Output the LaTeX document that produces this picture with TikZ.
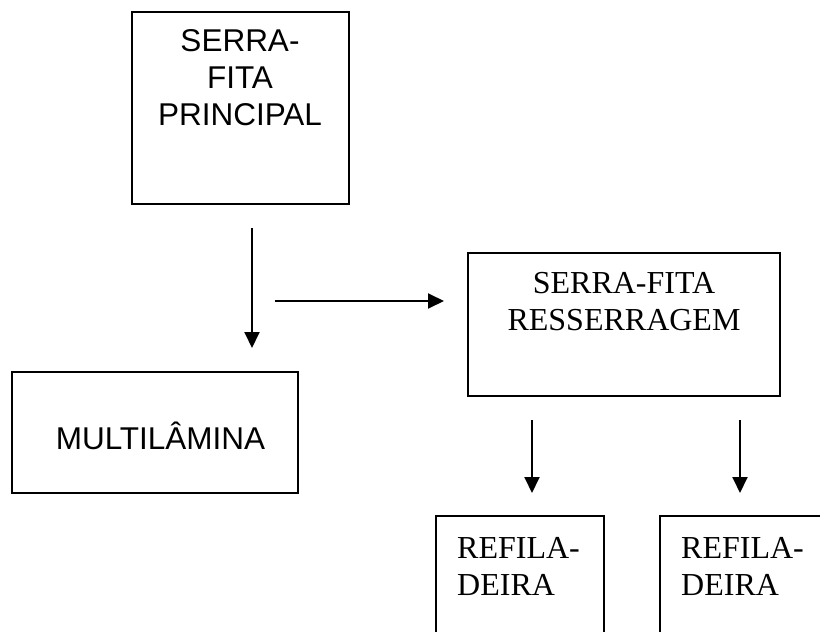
\documentclass[tikz,border=0pt]{standalone}
\usepackage{fontspec}
\setmainfont{Liberation Serif}
\newfontfamily\arialf{Liberation Sans}
\usetikzlibrary{arrows.meta}
\begin{document}
\begin{tikzpicture}[x=1pt,y=-1pt,
  box/.style={draw, line width=1.9pt, rectangle, inner sep=0pt},
  sanslbl/.style={align=center, inner sep=0pt, font=\arialf\fontsize{31.5}{37}\selectfont},
  seriflbl/.style={align=center, inner sep=0pt, font=\fontsize{32}{37}\selectfont},
  serifleft/.style={align=left, inner sep=0pt, font=\fontsize{32}{37}\selectfont},
  arr/.style={line width=1.9pt, -{Triangle[length=16pt,width=15pt]}}]
\useasboundingbox (0,0) rectangle (820,632);
\clip (0,0) rectangle (820,632);

% boxes
\node[box, minimum width=217pt, minimum height=192pt] (p) at (240.5,108) {};
\node[box, minimum width=286pt, minimum height=121pt] (m) at (155,432.5) {};
\node[box, minimum width=312pt, minimum height=143pt] (r) at (624,324.5) {};
\node[box, minimum width=168pt, minimum height=164pt] (f1) at (520,598) {};
\node[box, minimum width=200pt, minimum height=164pt] (f2) at (760,598) {};

% texts
\node[sanslbl, anchor=north] (pt) at (240,29) {SERRA-\\FITA\\PRINCIPAL};
\node[sanslbl, anchor=base] (mt) at (160.5,449) {MULTILÂMINA};
\node[seriflbl, anchor=north] (rt) at (624,272.5) {SERRA-FITA\\RESSERRAGEM};
\node[serifleft, anchor=north west] (f1t) at (457,537) {REFILA-\\DEIRA};
\node[serifleft, anchor=north west] (f2t) at (681,537) {REFILA-\\DEIRA};

% arrow end points
\coordinate (a1s) at (252,228);
\coordinate (a1e) at (252,348);
\coordinate (a2s) at (275,301);
\coordinate (a2e) at (444,301);
\coordinate (a3s) at (532,420);
\coordinate (a3e) at (532,493);
\coordinate (a4s) at (740,420);
\coordinate (a4e) at (740,493);

\draw[arr] (a1s) -- (a1e);
\draw[arr] (a2s) -- (a2e);
\draw[arr] (a3s) -- (a3e);
\draw[arr] (a4s) -- (a4e);
\end{tikzpicture}
\end{document}
